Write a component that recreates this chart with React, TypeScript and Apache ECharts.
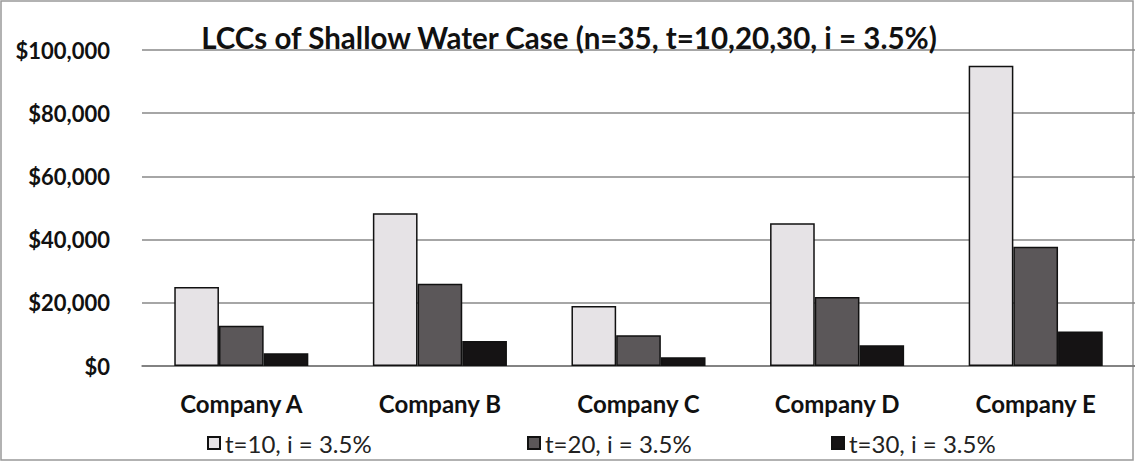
import React, { useEffect, useRef } from "react";
import * as echarts from "echarts";

const categories = ["Company A", "Company B", "Company C", "Company D", "Company E"];
const seriesNames = ["t=10, i = 3.5%", "t=20, i = 3.5%", "t=30, i = 3.5%"];
const t10 = [25000, 48300, 19000, 45200, 95000];
const t20 = [12700, 26000, 9700, 21800, 37700];
const t30 = [4000, 7900, 2800, 6600, 10900];
const colors = ["#e6e3e6", "#5b5759", "#151314"];
const legendLeft = [202, 522, 826];

export default function App() {
  const ref = useRef<HTMLDivElement>(null);
  useEffect(() => {
    const chart = echarts.init(ref.current!, null, { renderer: "svg" });
    const font = "Lato, sans-serif";
    const data = [t10, t20, t30];
    chart.setOption({
      animation: false,
      title: {
        text: "LCCs of Shallow Water Case (n=35, t=10,20,30, i = 3.5%)",
        left: 564,
        textAlign: "center",
        top: 17,
        textStyle: { fontFamily: font, fontWeight: "bold", fontSize: 29.5, color: "#111" },
      },
      grid: { left: 142, right: -7, top: 50, bottom: 96 },
      legend: seriesNames.map((n, i) => ({
        data: [n],
        left: legendLeft[i],
        top: 426,
        itemWidth: 12,
        itemHeight: 12,
        itemGap: 4,
        icon: "rect",
        textStyle: { fontFamily: font, fontSize: 24, color: "#222" },
      })),
      xAxis: {
        type: "category",
        data: categories,
        axisLine: { show: true, lineStyle: { color: "#777", width: 1.5 } },
        axisTick: { show: false },
        axisLabel: { fontFamily: font, fontWeight: "bold", fontSize: 24, color: "#111", margin: 25 },
      },
      yAxis: {
        type: "value",
        min: 0,
        max: 100000,
        interval: 20000,
        axisLine: { show: false },
        axisTick: { show: false },
        splitLine: { lineStyle: { color: "#888", width: 1.5 } },
        axisLabel: {
          fontFamily: font,
          fontWeight: "bold",
          fontSize: 22,
          color: "#111",
          margin: 32,
          formatter: (v: number) => "$" + v.toLocaleString("en-US"),
        },
      },
      series: data.map((d, i) => ({
        name: seriesNames[i],
        type: "bar",
        data: d,
        barGap: "0%",
        barCategoryGap: "32.5%",
        itemStyle: { color: colors[i], borderColor: "#111", borderWidth: 1.5 },
      })),
      graphic: [
        {
          type: "rect",
          shape: { x: 1, y: 1, width: 1132, height: 459 },
          style: { fill: "none", stroke: "#999", lineWidth: 1.5 },
          silent: true,
        },
      ],
    });
    return () => chart.dispose();
  }, []);
  return <div ref={ref} style={{ width: 1135, height: 462, position: "absolute", left: 0, top: 0, background: "#fff" }} />;
}
